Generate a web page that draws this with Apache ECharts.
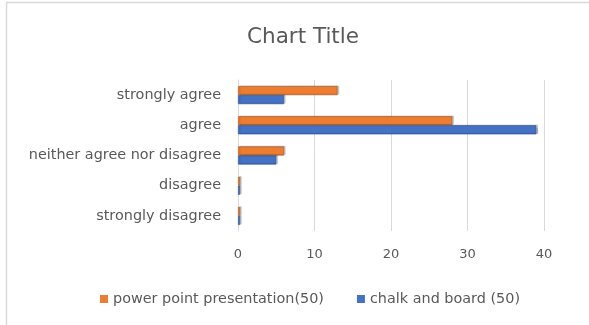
<!DOCTYPE html>
<html>
<head>
<meta charset="utf-8">
<script src="https://cdn.jsdelivr.net/npm/echarts@6/dist/echarts.min.js"></script>
<style>
  html, body { margin: 0; padding: 0; background: #fff; }
  #chart { width: 589px; height: 325px; }
</style>
</head>
<body>
<div id="chart"></div>
<script>
// Survey responses, listed bottom to top on the category axis
const categories = ['strongly disagree', 'disagree', 'neither agree nor disagree', 'agree', 'strongly agree'];
const powerPoint = [0, 0, 6, 28, 13];
const chalkBoard = [0, 0, 5, 39, 6];
const seriesNames = ['power point presentation(50)', 'chalk and board (50)'];
const xTicks = { min: 0, max: 40, interval: 10 };

const textColor = '#595959';
const font = 'DejaVu Sans, sans-serif';

const chart = echarts.init(document.getElementById('chart'), null, { renderer: 'canvas' });

function barSeries(name, data, color, edge) {
  return {
    name: name,
    type: 'bar',
    data: data,
    barWidth: 9,
    barGap: '0%',
    barMinHeight: 2,
    itemStyle: {
      color: color,
      borderColor: edge,
      borderWidth: 0.6,
      shadowColor: 'rgba(0,0,0,0.25)',
      shadowOffsetX: 1.5,
      shadowOffsetY: -0.5,
      shadowBlur: 1
    }
  };
}

chart.setOption({
  animation: false,
  backgroundColor: '#fff',
  // chart-area frame: top and left edges
  graphic: [
    { type: 'line', shape: { x1: 6, y1: 2.5, x2: 589, y2: 2.5 }, style: { stroke: '#d9d9d9', lineWidth: 1.5 }, silent: true },
    { type: 'line', shape: { x1: 6.5, y1: 2, x2: 6.5, y2: 325 }, style: { stroke: '#d9d9d9', lineWidth: 1.5 }, silent: true }
  ],
  title: {
    text: 'Chart Title',
    left: 242,
    top: 21,
    textStyle: { color: textColor, fontSize: 21.5, fontWeight: 'normal', fontFamily: font }
  },
  legend: {
    bottom: 14,
    left: 95,
    itemWidth: 8,
    itemHeight: 8,
    itemGap: 33,
    icon: 'rect',
    itemStyle: { borderWidth: 0, shadowBlur: 0, shadowOffsetX: 0, shadowOffsetY: 0 },
    textStyle: { color: textColor, fontSize: 14.4, fontFamily: font },
    data: seriesNames
  },
  grid: { left: 238, right: 45, top: 80, bottom: 94 },
  xAxis: {
    type: 'value',
    min: xTicks.min,
    max: xTicks.max,
    interval: xTicks.interval,
    axisLine: { show: false },
    axisTick: { show: false },
    axisLabel: { color: textColor, fontSize: 13, fontFamily: font, margin: 17 },
    splitLine: { lineStyle: { color: '#d9d9d9', width: 1 } }
  },
  yAxis: {
    type: 'category',
    data: categories,
    axisLine: { lineStyle: { color: '#d9d9d9' } },
    axisTick: { show: false },
    axisLabel: { color: textColor, fontSize: 14.4, fontFamily: font, margin: 17 }
  },
  series: [
    barSeries(seriesNames[0], powerPoint, '#ed7d31', '#ae5a21'),
    barSeries(seriesNames[1], chalkBoard, '#4472c4', '#2f528f')
  ]
});
</script>
</body>
</html>
